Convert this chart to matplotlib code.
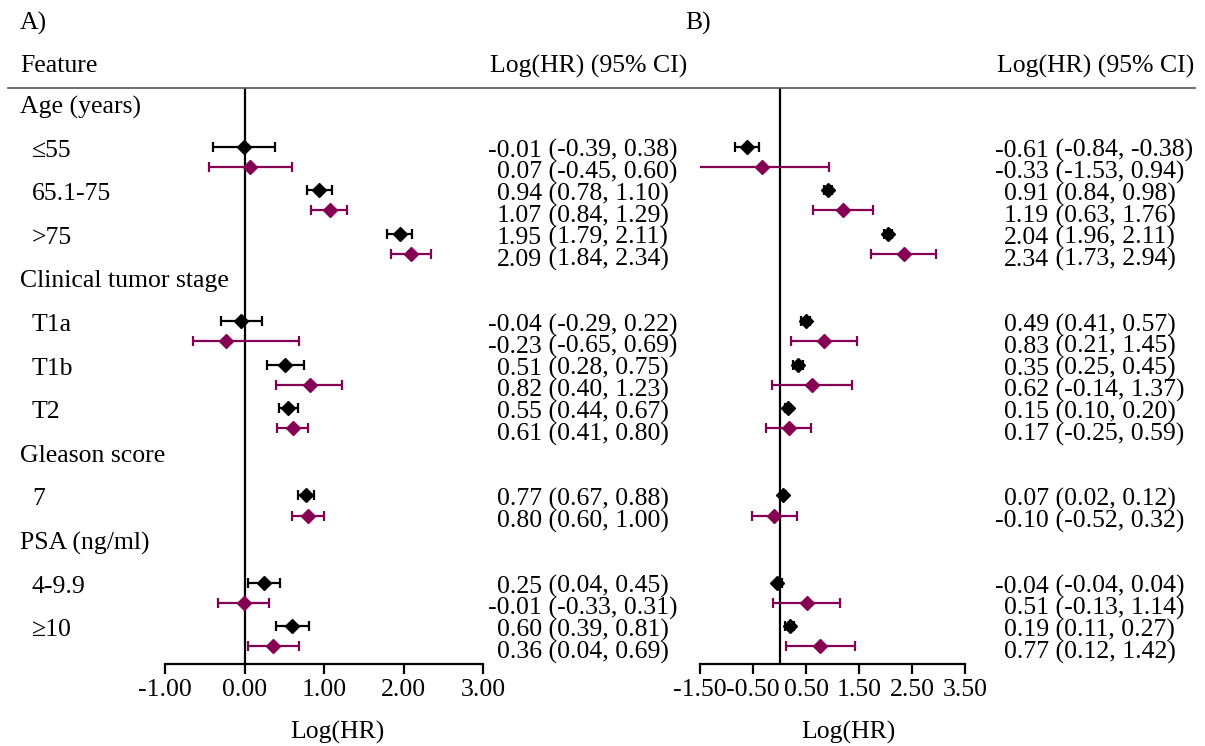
import numpy as np
import matplotlib
matplotlib.use('Agg')
import matplotlib.pyplot as plt
from matplotlib.lines import Line2D
from matplotlib.transforms import blended_transform_factory

plt.rcParams['font.family'] = ['Liberation Serif', 'DejaVu Serif']

# row labels
groups = ['Age (years)', 'Clinical tumor stage', 'Gleason score', 'PSA (ng/ml)']
group_rows = [0, 8, 16, 20]
subgroups = ['\u226455', '65.1-75', '>75', 'T1a', 'T1b', 'T2', '7', '4-9.9', '\u226510']
sub_rows = [2, 4, 6, 10, 12, 14, 18, 22, 24]

# panel A
a_blk_est = [-0.01, 0.94, 1.95, -0.04, 0.51, 0.55, 0.77, 0.25, 0.60]
a_blk_lo = [-0.39, 0.78, 1.79, -0.29, 0.28, 0.44, 0.67, 0.04, 0.39]
a_blk_hi = [0.38, 1.10, 2.11, 0.22, 0.75, 0.67, 0.88, 0.45, 0.81]
a_pur_est = [0.07, 1.07, 2.09, -0.23, 0.82, 0.61, 0.80, -0.01, 0.36]
a_pur_lo = [-0.45, 0.84, 1.84, -0.65, 0.40, 0.41, 0.60, -0.33, 0.04]
a_pur_hi = [0.60, 1.29, 2.34, 0.69, 1.23, 0.80, 1.00, 0.31, 0.69]

# panel B
b_blk_est = [-0.61, 0.91, 2.04, 0.49, 0.35, 0.15, 0.07, -0.04, 0.19]
b_blk_lo = [-0.84, 0.84, 1.96, 0.41, 0.25, 0.10, 0.02, -0.04, 0.11]
b_blk_hi = [-0.38, 0.98, 2.11, 0.57, 0.45, 0.20, 0.12, 0.04, 0.27]
b_pur_est = [-0.33, 1.19, 2.34, 0.83, 0.62, 0.17, -0.10, 0.51, 0.77]
b_pur_lo = [-1.53, 0.63, 1.73, 0.21, -0.14, -0.25, -0.52, -0.13, 0.12]
b_pur_hi = [0.94, 1.76, 2.94, 1.45, 1.37, 0.59, 0.32, 1.14, 1.42]

a_ticks = [-1.0, 0.0, 1.0, 2.0, 3.0]
b_ticks = [-1.5, -0.5, 0.5, 1.5, 2.5, 3.5]

W, H = 1205, 746
fs = 18.5
purple = '#850052'

fig = plt.figure(figsize=(W/100, H/100), dpi=100)

def fx(px):
    return px / W

def fy(py):
    return 1 - py / H

row_h = 21.8
row0 = 104
top_px, bot_px = 88, 664
ylim = ((bot_px - row0) / row_h, (top_px - row0) / row_h)
toff = 3 / row_h   # text sits a bit lower than the markers

def panel(left_px, right_px, xlim, ticks, blk, pur, num_px, head_px, xlab_px, tag, tag_px):
    ax = fig.add_axes([fx(left_px), fy(bot_px), (right_px - left_px) / W, (bot_px - top_px) / H])
    ax.set_xlim(xlim)
    ax.set_ylim(ylim)
    for s in ['top', 'right', 'left']:
        ax.spines[s].set_visible(False)
    ax.spines['bottom'].set_linewidth(1.6)
    ax.set_yticks([])
    ax.set_xticks(ticks)
    ax.set_xticklabels(['%.2f' % t for t in ticks])
    ax.tick_params(axis='x', length=7, width=1.6, labelsize=fs, pad=4)
    ax.axvline(0, color='black', lw=1.6)
    rows = np.array(sub_rows, dtype=float)
    for (est, lo, hi), col, off in [(blk, 'black', -0.05), (pur, purple, 1.0 - 0.12)]:
        est = np.array(est); lo = np.array(lo); hi = np.array(hi)
        ax.errorbar(est, rows + off, xerr=[est - lo, hi - est], fmt='D', color=col,
                    ms=7, capsize=3.6, elinewidth=1.6, capthick=1.6)
    tr = blended_transform_factory(fig.transFigure, ax.transData)
    for (est, lo, hi), off in [(blk, 0), (pur, 1)]:
        for r, e, l, h in zip(sub_rows, est, lo, hi):
            ax.text(fx(num_px), r + off + toff, '%.2f' % e, transform=tr, ha='right', va='center', fontsize=fs)
            ax.text(fx(num_px), r + off + toff, ' (%.2f, %.2f)' % (l, h), transform=tr, ha='left', va='center', fontsize=fs)
    fig.text(fx(head_px), fy(66), 'Log(HR) (95% CI)', ha='right', va='center', fontsize=fs)
    fig.text(fx(xlab_px), fy(732), 'Log(HR)', ha='center', va='center', fontsize=fs)
    fig.text(fx(tag_px), fy(23), tag, ha='left', va='center', fontsize=fs)
    return ax

axA = panel(165, 483, (-1, 3), a_ticks, (a_blk_est, a_blk_lo, a_blk_hi),
            (a_pur_est, a_pur_lo, a_pur_hi), 542, 687, 337, 'A)', 20)
axB = panel(700, 965.3, (-1.5, 3.5), b_ticks, (b_blk_est, b_blk_lo, b_blk_hi),
            (b_pur_est, b_pur_lo, b_pur_hi), 1049, 1194, 848, 'B)', 685)

trA = blended_transform_factory(fig.transFigure, axA.transData)
for g, r in zip(groups, group_rows):
    axA.text(fx(20), r + toff, g, transform=trA, ha='left', va='center', fontsize=fs)
for s, r in zip(subgroups, sub_rows):
    axA.text(fx(32), r + toff, s, transform=trA, ha='left', va='center', fontsize=fs)

fig.text(fx(20), fy(66), 'Feature', ha='left', va='center', fontsize=fs)
fig.add_artist(Line2D([fx(8), fx(1195)], [fy(87.5), fy(87.5)], color='#555555', lw=1.2,
                      transform=fig.transFigure))

fig.savefig('out.png', dpi=100)
